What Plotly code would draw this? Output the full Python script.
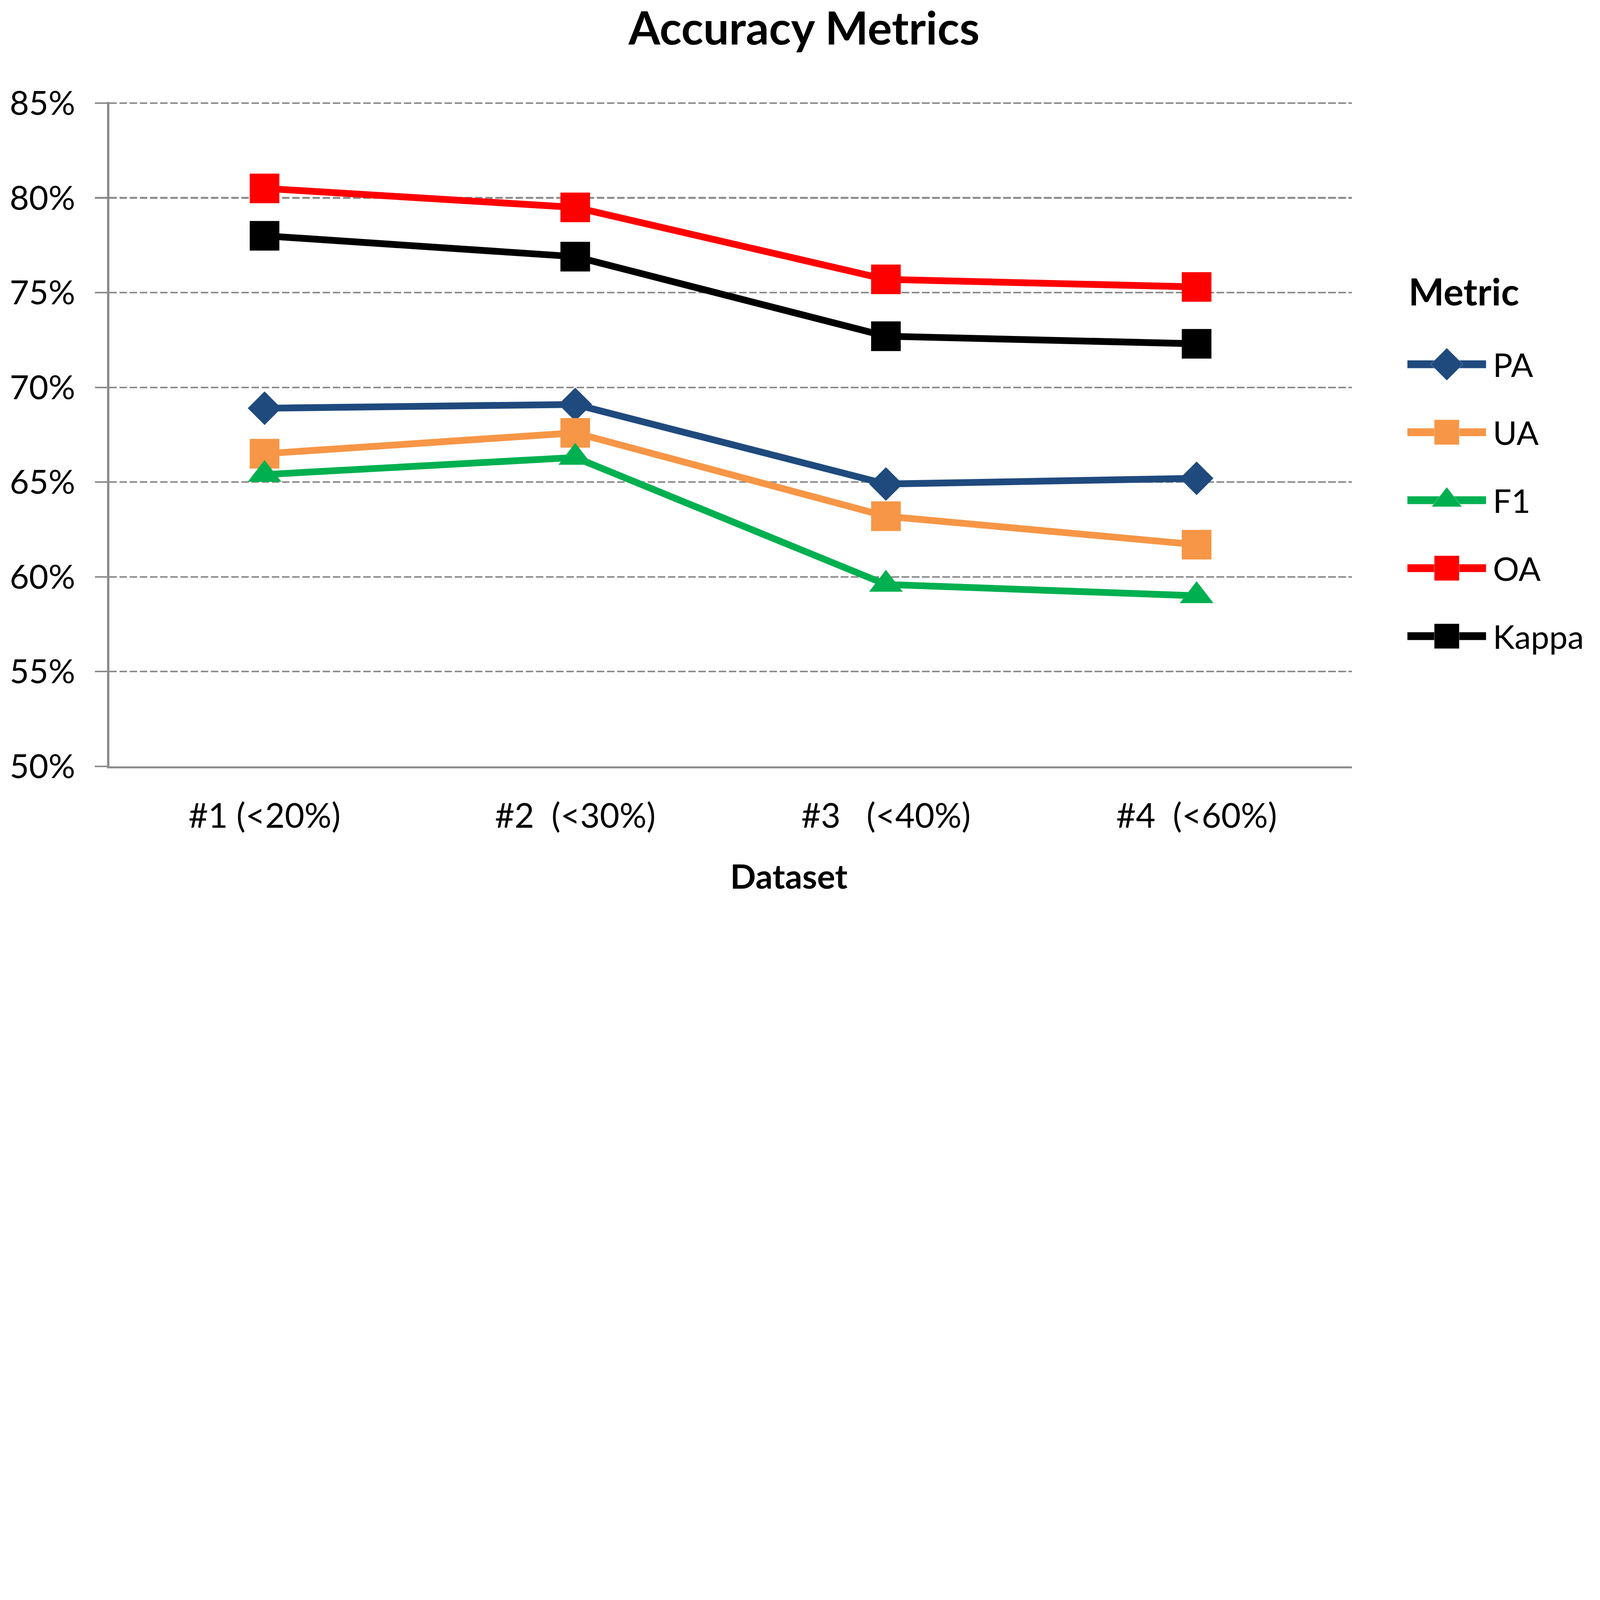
import plotly.graph_objects as go

# ---------------- data ----------------
datasets = ["#1 (<20%)", "#2\u00a0 (<30%)", "#3\u00a0\u00a0 (<40%)", "#4\u00a0 (<60%)"]
metrics = ["PA", "UA", "F1", "OA", "Kappa"]
pa = [68.9, 69.1, 64.9, 65.2]
ua = [66.5, 67.6, 63.2, 61.7]
f1 = [65.4, 66.3, 59.6, 59.0]
oa = [80.5, 79.5, 75.7, 75.3]
kappa = [78.0, 76.9, 72.7, 72.3]
y_ticks = [50, 55, 60, 65, 70, 75, 80, 85]
y_tick_labels = ["50%", "55%", "60%", "65%", "70%", "75%", "80%", "85%"]

# ---------------- style ----------------
W, H = 7560, 4252
FONT = "Lato"
colors = {"PA": "#1F4A7D", "UA": "#F79646", "F1": "#00B050", "OA": "#FF0000", "Kappa": "#000000"}
symbols = {"PA": "diamond", "UA": "square", "F1": "triangle-up", "OA": "square", "Kappa": "square"}
msize = {"PA": 122, "UA": 140, "F1": 138, "OA": 140, "Kappa": 140}
legsize = {"PA": 118, "UA": 118, "F1": 124, "OA": 118, "Kappa": 118}
series = {"PA": pa, "UA": ua, "F1": f1, "OA": oa, "Kappa": kappa}
GRAY = "#8C8C8C"

fig = go.Figure()

for m in metrics:
    fig.add_trace(go.Scatter(
        x=datasets, y=series[m], name=m, mode="lines+markers",
        line=dict(color=colors[m], width=32),
        marker=dict(symbol=symbols[m], size=msize[m], color=colors[m], opacity=1),
        xaxis="x", yaxis="y", showlegend=False,
        hovertemplate=m + ": %{y:.1f}%<extra></extra>",
    ))

# hand-built legend drawn on its own small axes
for k, m in enumerate(metrics):
    fig.add_trace(go.Scatter(
        x=[0, 0.5, 1], y=[k, k, k], mode="lines+markers",
        line=dict(color=colors[m], width=37),
        marker=dict(symbol=symbols[m], size=[0, legsize[m], 0], color=colors[m], opacity=1),
        xaxis="x2", yaxis="y2", showlegend=False, hoverinfo="skip",
    ))

annotations = [
    dict(text="<b>Metric</b>", xref="paper", yref="paper", x=6653 / W, y=1 - 1374 / H,
         xanchor="left", yanchor="middle", showarrow=False,
         font=dict(family=FONT, size=178, color="#000000")),
    dict(text="<b>Dataset</b>", xref="paper", yref="paper", x=3727 / W, y=1 - 4137 / H,
         xanchor="center", yanchor="middle", showarrow=False,
         font=dict(family=FONT, size=160, color="#000000")),
]
for k, m in enumerate(metrics):
    annotations.append(dict(
        text=m, xref="x2", yref="y2", x=1, y=k, xanchor="left", yanchor="middle",
        xshift=30, showarrow=False, font=dict(family=FONT, size=155, color="#000000")))

fig.update_layout(
    width=W, height=H,
    margin=dict(l=0, r=0, t=0, b=0, autoexpand=False),
    paper_bgcolor="white", plot_bgcolor="white",
    font=dict(family=FONT, color="#000000"),
    showlegend=False,
    title=dict(text="<b>Accuracy Metrics</b>", x=3799 / W, y=1 - 134 / H,
               xanchor="center", yanchor="middle",
               font=dict(family=FONT, size=216, color="#000000")),
    xaxis=dict(
        domain=[516 / W, 6388 / W], type="category", range=[-0.5, 3.5],
        showline=True, linecolor=GRAY, linewidth=10,
        showgrid=False, zeroline=False, ticks="",
        ticklabelstandoff=88, automargin=False,
        tickfont=dict(family=FONT, size=160, color="#000000"),
        anchor="y",
    ),
    yaxis=dict(
        domain=[1 - 3621 / H, 1 - 482 / H], range=[50, 85.06],
        tickmode="array", tickvals=y_ticks, ticktext=y_tick_labels,
        showline=True, linecolor=GRAY, linewidth=10,
        ticks="outside", ticklen=58, tickwidth=8, tickcolor=GRAY,
        showgrid=True, gridcolor=GRAY, gridwidth=8, griddash="36px,12px",
        zeroline=False, ticklabelstandoff=61, automargin=False,
        tickfont=dict(family=FONT, size=158, color="#000000"),
        anchor="x",
    ),
    xaxis2=dict(domain=[6650 / W, 7022 / W], range=[0, 1], visible=False,
                anchor="y2", fixedrange=True),
    yaxis2=dict(domain=[1 - 3166.5 / H, 1 - 1560.5 / H], range=[4.5, -0.5], visible=False,
                anchor="x2", fixedrange=True),
    annotations=annotations,
)

# fit the fixed-size figure into whatever CSS viewport the browser provides
fit_script = """
(function(){
  var gd = document.getElementById('{plot_id}');
  var W = %d, H = %d;
  document.documentElement.style.margin = '0';
  document.documentElement.style.overflow = 'hidden';
  document.body.style.margin = '0';
  document.body.style.overflow = 'hidden';
  var s = Math.min(window.innerWidth / W, window.innerHeight / H);
  if (!isFinite(s) || s <= 0) { s = window.innerWidth / W; }
  if (!isFinite(s) || s <= 0) { s = 1; }
  var p = gd.parentElement;
  p.style.width = (W * s) + 'px';
  p.style.height = (H * s) + 'px';
  p.style.overflow = 'hidden';
  gd.style.transformOrigin = '0 0';
  gd.style.transform = 'scale(' + s + ')';
})();
""" % (W, H)

fig.write_html("out.html", post_script=fit_script, config={"displayModeBar": False})
